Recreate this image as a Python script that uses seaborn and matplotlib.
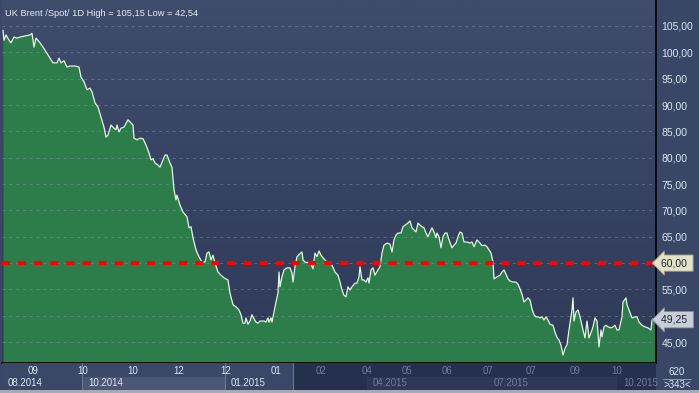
import numpy as np
import matplotlib
matplotlib.use("Agg")
import matplotlib.pyplot as plt
import seaborn as sns

# trading time index (position along the session axis) and Brent close
t = [0, 1, 3, 6, 8, 11, 14, 17, 22, 27, 29, 31, 33, 37, 40, 43, 47, 50, 54, 56,
     58, 61, 64, 67, 72, 76, 78, 81, 84, 87, 89, 92, 95, 98, 101, 103, 105, 108,
     111, 113, 114, 116, 118, 121, 125, 127, 130, 131, 134, 137, 140, 143, 146,
     148, 150, 152, 155, 157, 160, 162, 164, 167, 169, 171, 173, 174, 177, 180,
     184, 186, 188, 190, 193, 196, 199, 202, 204, 206, 208, 210, 212, 215, 218,
     221, 225, 227, 230, 233, 236, 238, 240, 242, 243, 245, 247, 249, 250, 253,
     255, 257, 261, 263, 265, 266, 268, 269, 271, 273, 275, 276, 277, 279, 281,
     284, 287, 289, 290, 292, 294, 297, 299, 300, 302, 304, 307, 309, 310, 312,
     314, 316, 318, 320, 322, 325, 329, 332, 335, 337, 339, 341, 343, 345, 347,
     349, 352, 354, 356, 357, 359, 361, 363, 365, 366, 368, 370, 372, 375, 377,
     379, 381, 384, 387, 389, 391, 393, 395, 398, 400, 402, 405, 407, 409, 411,
     413, 415, 417, 419, 421, 423, 425, 427, 429, 431, 433, 434, 436, 438, 440,
     442, 444, 446, 449, 451, 453, 455, 457, 459, 461, 464, 467, 469, 471, 474,
     477, 479, 482, 484, 486, 488, 490, 491, 494, 497, 499, 501, 503, 505, 507,
     510, 513, 515, 517, 519, 521, 523, 525, 527, 529, 531, 533, 535, 537, 539,
     541, 543, 545, 547, 550, 552, 554, 556, 558, 560, 562, 564, 566, 569, 570,
     571, 573, 575, 577, 580, 582, 584, 586, 589, 590, 592, 594, 595, 596, 598,
     599, 601, 603, 605, 608, 610, 612, 614, 616, 619, 620, 623, 624, 626, 629,
     632, 634, 636, 639, 642, 645, 648, 649, 650, 652]
price = [104.2, 102.3, 103.3, 102.3, 101.8, 102.9, 102.7, 102.9, 103.1, 103.3,
         103.6, 101.0, 102.7, 101.8, 101.0, 100.1, 98.9, 98.0, 98.0, 98.9,
         98.0, 98.4, 97.2, 97.4, 97.4, 97.2, 95.3, 94.4, 92.9, 93.2,
         92.5, 90.4, 89.6, 87.7, 85.8, 83.9, 84.3, 86.2, 85.6, 85.3,
         86.2, 84.9, 85.6, 85.8, 87.2, 86.8, 86.2, 83.7, 83.4, 83.7,
         83.6, 82.4, 80.9, 79.6, 79.8, 79.0, 78.6, 78.2, 79.6, 80.5,
         80.5, 79.0, 78.2, 73.9, 72.0, 72.9, 71.0, 69.7, 68.8, 66.7,
         66.9, 64.8, 62.5, 61.2, 60.2, 60.2, 61.9, 62.1, 60.6, 61.5,
         60.0, 58.3, 57.7, 57.2, 56.8, 54.3, 52.1, 51.7, 51.1, 50.2,
         48.6, 48.6, 49.6, 48.4, 49.0, 50.2, 49.8, 48.8, 48.6, 49.0,
         49.0, 48.8, 49.6, 48.8, 49.6, 48.8, 50.7, 52.6, 54.3, 58.3,
         55.5, 57.4, 58.7, 59.1, 59.1, 58.1, 56.4, 59.3, 61.2, 61.8,
         62.1, 60.6, 60.2, 60.1, 60.2, 59.3, 58.9, 61.9, 61.2, 62.3,
         61.5, 61.0, 60.6, 60.0, 59.6, 58.3, 57.7, 56.4, 54.9, 53.9,
         53.6, 55.5, 54.9, 55.5, 56.2, 56.2, 57.4, 59.3, 56.8, 56.8,
         56.4, 57.2, 56.2, 58.7, 59.1, 57.7, 58.7, 59.3, 61.9, 63.4,
         63.8, 63.6, 62.1, 64.4, 65.3, 65.7, 65.7, 66.9, 67.2, 67.6,
         68.0, 66.7, 66.3, 65.9, 67.6, 67.2, 66.9, 66.7, 65.7, 65.0,
         65.9, 66.7, 65.9, 64.8, 65.7, 65.0, 62.9, 65.0, 65.7, 65.7,
         64.4, 62.9, 63.4, 63.8, 65.0, 65.9, 65.7, 64.0, 64.0, 63.8,
         64.0, 63.1, 64.4, 63.8, 63.3, 63.4, 63.1, 62.5, 61.9, 60.2,
         57.0, 57.4, 57.7, 58.3, 58.7, 57.9, 57.0, 56.6, 56.4, 56.4,
         56.0, 55.1, 54.1, 52.6, 53.0, 53.4, 53.0, 51.3, 50.2, 49.8,
         49.8, 49.6, 49.8, 49.2, 49.8, 49.2, 48.4, 48.2, 46.9, 45.9,
         45.4, 44.4, 42.54, 43.8, 44.5, 47.3, 51.1, 53.4, 49.0, 50.7,
         51.1, 49.8, 47.3, 45.8, 49.0, 45.8, 47.3, 47.9, 49.6, 49.0,
         46.7, 44.1, 47.3, 46.0, 47.9, 48.2, 47.9, 47.7, 47.9, 48.2,
         47.3, 47.3, 49.8, 52.6, 53.4, 52.1, 51.1, 49.6, 49.8, 49.8,
         48.8, 48.2, 47.9, 47.7, 47.3, 49.2, 49.4, 49.25]
price = price[:len(t)]
t = t[:len(price)]

tick_pos = [30, 80, 130, 176, 223, 273, 318, 364, 404, 444, 485, 528, 572, 614]
tick_lab = ["09", "10", "10", "12", "12", "01", "02", "04", "05", "06", "07", "07", "09", "10"]
period_pos = [-1, 79, 222, 364, 485, 614]
period_lab = ["08.2014", "10.2014", "01.2015", "04.2015", "07.2015", "10.2015"]
y_ticks = [45, 50, 55, 65, 70, 75, 80, 85, 90, 95, 100, 105]
level = 60.0
last = 49.25

sns.set_style("dark")
plt.rcParams["font.family"] = ["Liberation Sans", "DejaVu Sans"]

fig = plt.figure(figsize=(6.99, 3.93), dpi=100)
fig.patch.set_facecolor("#3a4666")

W, H = 699, 393
ax = fig.add_axes([2 / W, 30 / H, 654 / W, 363 / H])
ax.set_xlim(-1, 653)
ax.set_ylim(41.04, 109.93)

# background gradient
grad = np.linspace(0, 1, 256).reshape(-1, 1)
cmap = matplotlib.colors.LinearSegmentedColormap.from_list("bg", ["#404c6c", "#2f3a59"])
ax.imshow(grad, extent=[-1, 653, 41.04, 109.93], aspect="auto", cmap=cmap,
          origin="upper", zorder=0)

ax.fill_between(t, price, 41.04, color="#2c7d4a", zorder=1, lw=0)
sns.lineplot(x=t, y=price, ax=ax, color="#e2f7de", lw=0.9, zorder=3)

ax.set_xticks(tick_pos)
ax.set_xticklabels([])
ax.set_yticks(y_ticks)
ax.yaxis.tick_right()
ax.set_yticklabels([f"{v},00" for v in y_ticks], color="#dce6f6", fontsize=7.5)
ax.tick_params(axis="y", length=0, pad=4)
ax.tick_params(axis="x", length=0)
ax.grid(True, color="#8a9ab8", alpha=0.45, ls=(0, (3, 4)), lw=0.7, zorder=2)
ax.set_axisbelow(False)
for s in ["top", "left"]:
    ax.spines[s].set_visible(False)
ax.spines["right"].set_color("black")
ax.spines["bottom"].set_color("black")
ax.spines["right"].set_linewidth(1.2)
ax.spines["bottom"].set_linewidth(1.2)
ax.set_xlabel("")
ax.set_ylabel("")
# keep the 60 gridline although its label lives in the marker box
ax.axhline(level, color="#8a9ab8", alpha=0.45, ls=(0, (3, 4)), lw=0.7, zorder=2)

ax.axhline(level, color="#ff0000", lw=2.9, ls=(0, (2, 2)), zorder=4)

ax.text(0.004, 0.975, "UK Brent /Spot/ 1D High = 105,15 Low = 42,54",
        transform=ax.transAxes, color="#e6ecf6", fontsize=6.7, va="top", ha="left")

# value markers on the right axis
ax.text(1.008, level, "60,00 ", transform=ax.get_yaxis_transform(), color="#1c2233",
        fontsize=7.5, va="center", ha="left", zorder=6,
        bbox=dict(boxstyle="larrow,pad=0.3", fc="#e4e2c6", ec="#9c9a80", lw=0.6))
ax.text(1.008, last, "49,25 ", transform=ax.get_yaxis_transform(), color="#1c2233",
        fontsize=7.5, va="center", ha="left", zorder=6,
        bbox=dict(boxstyle="larrow,pad=0.3", fc="#c9ced8", ec="#8a909c", lw=0.6))

# time strip below
bx = fig.add_axes([2 / W, 3 / H, 654 / W, 27 / H], sharex=ax)
bx.set_ylim(0, 1)
bx.set_facecolor("#3b4766")
bx.axvspan(79, 222, ymin=0, ymax=0.5, color="#4b5774", lw=0)
bx.axvspan(290, 653, color="#25304c", lw=0)
bx.axvspan(364, 485, ymin=0, ymax=0.5, color="#2c3855", lw=0)
bx.axvspan(485, 614, ymin=0, ymax=0.5, color="#2c3855", lw=0)
for p in [79, 222, 290]:
    bx.axvline(p, color="#6b7896", lw=0.8)
for p, lab in zip(tick_pos, tick_lab):
    c = "#dce6f6" if p < 290 else "#6f7c9a"
    bx.text(p, 0.72, lab, ha="center", va="center", color=c, fontsize=7)
for p, lab in zip(period_pos, period_lab):
    c = "#dce6f6" if p < 290 else "#6f7c9a"
    bx.text(p + 6, 0.25, lab, ha="left", va="center", color=c, fontsize=7)
bx.set_xticks([])
bx.set_yticks([])
for s in bx.spines.values():
    s.set_visible(False)

# corner box
fig.text(677 / W, 1 - 372 / H, "620", ha="center", va="center", color="#dce6f6", fontsize=7)
fig.text(677 / W, 1 - 385 / H, ">343<", ha="center", va="center", color="#dce6f6", fontsize=7)
fig.add_artist(plt.Line2D([663 / W, 691 / W], [1 - 378.5 / H] * 2, color="#9aa6c0", lw=0.6))
fig.add_artist(plt.Rectangle((0, 0), 1, 3 / H, color="#a4aab6", lw=0))

fig.savefig("out.png", dpi=100, facecolor=fig.get_facecolor())
